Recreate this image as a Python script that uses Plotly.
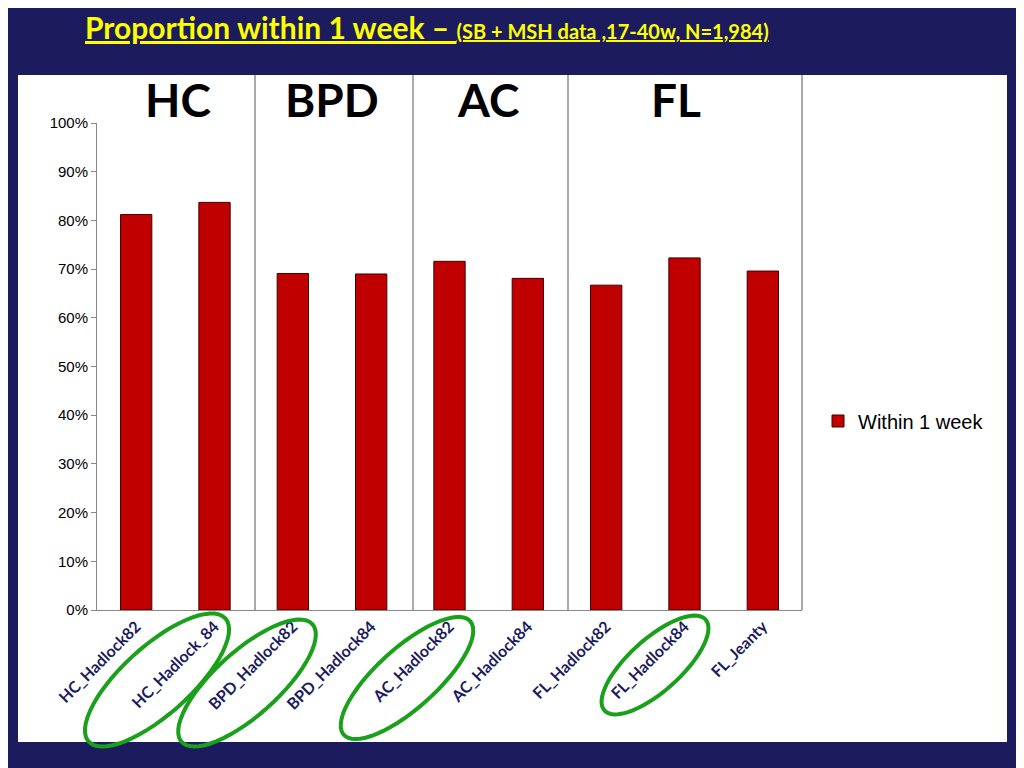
import plotly.graph_objects as go
import numpy as np

categories = ["HC_Hadlock82", "HC_Hadlock_84", "BPD_Hadlock82", "BPD_Hadlock84",
              "AC_Hadlock82", "AC_Hadlock84", "FL_Hadlock82", "FL_Hadlock84", "FL_Jeanty"]
within_1_week = [0.812, 0.837, 0.691, 0.690, 0.716, 0.681, 0.667, 0.723, 0.696]
groups = ["HC", "BPD", "AC", "FL"]

OFF = 8  # page margin of the browser
W, H = 1024, 768
L, R, T, B = 97 - OFF, 802 - OFF, 123 - OFF, 610 - OFF


def px(x, y):
    # screen pixel position in the reference -> paper coordinates
    return (x - OFF - L) / (R - L), (B - (y - OFF)) / (B - T)


fig = go.Figure()
fig.add_trace(go.Bar(
    x=list(range(len(categories))), y=within_1_week, name="Within 1 week",
    marker=dict(color="#c00000", line=dict(color="#400000", width=1)), width=0.4,
))

shapes = []
# white slide panel
x0, y0 = px(18, 742)
x1, y1 = px(1007, 75)
shapes.append(dict(type="rect", xref="paper", yref="paper", x0=x0, y0=y0, x1=x1, y1=y1,
                   fillcolor="white", line=dict(width=0), layer="below"))
# group separators
for xs in [255, 413, 568, 802]:
    a, b = px(xs, 75)
    shapes.append(dict(type="line", xref="paper", yref="paper", x0=a, x1=a, y0=0, y1=b,
                       line=dict(color="#555555", width=1)))
# green ellipses around selected labels
t = np.linspace(0, 2 * np.pi, 60)
for cx, cy, a_, b_ in [(157, 680, 92, 34), (247, 683, 88, 32), (407, 678, 85, 30), (655, 665, 68, 26)]:
    ang = np.radians(-42)
    xs = cx + a_ * np.cos(t) * np.cos(ang) - b_ * np.sin(t) * np.sin(ang)
    ys = cy + a_ * np.cos(t) * np.sin(ang) + b_ * np.sin(t) * np.cos(ang)
    pts = [px(u, v) for u, v in zip(xs, ys)]
    path = "M " + " L ".join(f"{p:.4f},{q:.4f}" for p, q in pts) + " Z"
    shapes.append(dict(type="path", xref="paper", yref="paper", path=path,
                       line=dict(color="#1aa01a", width=4)))

annotations = []
for g, gx in zip(groups, [178, 332, 488, 676]):
    a, b = px(gx, 100)
    annotations.append(dict(text=f"<b>{g}</b>", x=a, y=b, xref="paper", yref="paper",
                            xanchor="center", yanchor="middle",
                            showarrow=False, font=dict(size=46, color="black", family="Lato")))
a, b = px(83, 27)
annotations.append(dict(
    text="<b><u>Proportion within 1 week – </u></b><b><u><span style='font-size:20px'>(SB + MSH data ,17-40w, N=1,984)</span></u></b>",
    x=a, y=b, xref="paper", yref="paper", xanchor="left", yanchor="middle", showarrow=False,
    font=dict(size=30, color="#ffff00", family="Lato")))

fig.update_layout(
    width=W, height=H, margin=dict(l=L, r=W - R, t=T, b=H - B),
    paper_bgcolor="#1b1b5e", plot_bgcolor="white",
    shapes=shapes, annotations=annotations,
    xaxis=dict(tickmode="array", tickvals=list(range(len(categories))),
               ticktext=[f"<b>{c}</b>" for c in categories],
               tickangle=-45, range=[-0.5, 8.5], showgrid=False, showline=True,
               linecolor="#888888", ticks="", tickfont=dict(size=16, color="#1b1b5e", family="Lato"),
               fixedrange=True),
    yaxis=dict(range=[0, 1], dtick=0.1, tickformat=".0%", showgrid=False, showline=True,
               linecolor="#888888", ticks="outside", ticklen=5, tickcolor="#888888",
               tickfont=dict(size=15, color="black", family="Liberation Sans"), zeroline=False),
    showlegend=True,
    legend=dict(x=px(818, 0)[0], y=px(0, 421)[1], yanchor="middle", xanchor="left",
                font=dict(size=20, color="black", family="Liberation Sans"), bgcolor="rgba(0,0,0,0)"),
)
fig.write_html("out.html")
